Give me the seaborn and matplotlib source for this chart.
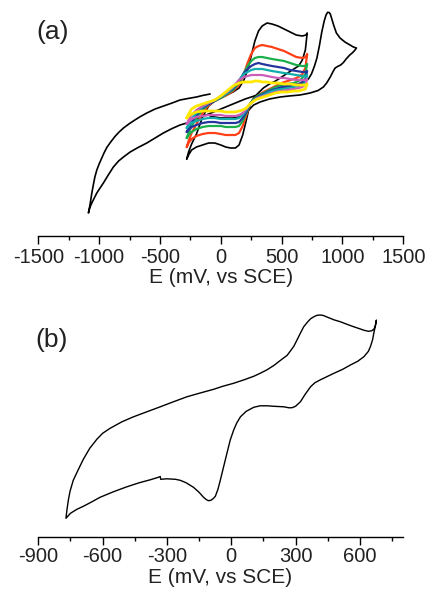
import matplotlib
matplotlib.use("Agg")
import matplotlib.pyplot as plt
import seaborn as sns
from matplotlib.ticker import MultipleLocator

# ---------------- data: panel (a) ----------------
# nested scans (-280 .. 710 mV), current in arbitrary units
E_up = [-280, -265, -240, -200, -150, -100, -50, 0, 50, 100, 150, 190, 220, 250,
        280, 310, 340, 380, 420, 470, 520, 570, 620, 670, 700, 710]
E_down = [710, 695, 670, 640, 600, 550, 500, 450, 400, 350, 300, 270, 240, 210,
          180, 150, 120, 80, 40, 0, -50, -100, -150, -200, -240, -265, -280]

black_up = [77, 84, 92, 102, 119, 130, 135, 138, 141, 144, 148, 156, 166, 180,
            195, 205, 210, 213, 212, 210, 207, 204, 201, 200, 201, 203]
black_dn = [203, 186, 176, 170, 167, 163, 159, 155, 152, 148, 142, 138, 132, 116,
            101, 91, 88, 88, 89, 91, 93, 93, 91, 89, 86, 81, 77]
red_up = [89, 95, 103, 112, 123, 131, 135, 138, 141, 145, 151, 162, 173, 182,
          188, 190, 191, 190, 189, 187, 185, 182, 179, 178, 179, 182]
red_dn = [182, 168, 162, 159, 157, 155, 153, 150, 147, 144, 140, 137, 132, 121,
          110, 103, 101, 101, 101, 102, 103, 103, 102, 100, 97, 93, 89]
green_up = [98, 103, 110, 118, 126, 132, 135, 138, 142, 146, 153, 163, 170, 175,
            178, 179, 179, 178, 177, 176, 175, 173, 171, 170, 170, 172]
green_dn = [172, 162, 158, 155, 153, 152, 151, 149, 146, 143, 140, 137, 132, 123,
            115, 110, 109, 109, 109, 110, 110, 110, 109, 107, 104, 101, 98]
blue_up = [104, 108, 114, 121, 128, 132, 135, 139, 143, 147, 155, 163, 167, 170,
           172, 173, 172, 171, 170, 169, 168, 166, 165, 164, 164, 165]
blue_dn = [165, 157, 154, 152, 151, 150, 149, 147, 145, 142, 139, 136, 132, 124,
           118, 114, 113, 113, 113, 113, 114, 114, 113, 111, 109, 106, 104]
teal_up = [108, 112, 117, 123, 129, 133, 136, 139, 143, 148, 156, 162, 164, 166,
           167, 167, 167, 166, 165, 164, 163, 162, 161, 160, 160, 161]
teal_dn = [161, 154, 151, 150, 149, 148, 147, 146, 144, 141, 138, 136, 132, 126,
           121, 118, 117, 117, 117, 117, 118, 118, 117, 115, 113, 110, 108]
magenta_up = [112, 116, 121, 126, 130, 133, 136, 140, 144, 149, 156, 159, 160, 161,
              161, 161, 161, 160, 159, 158, 158, 157, 156, 156, 156, 157]
magenta_dn = [157, 151, 149, 148, 147, 146, 145, 144, 142, 140, 138, 135, 132, 127,
              123, 121, 120, 120, 120, 121, 121, 121, 120, 119, 117, 114, 112]
yellow_up = [118, 122, 127, 130, 132, 134, 136, 140, 145, 150, 153, 154, 154, 154,
             155, 155, 154, 154, 153, 153, 152, 152, 151, 151, 151, 152]
yellow_dn = [152, 147, 146, 145, 145, 144, 144, 143, 141, 139, 137, 135, 132, 128,
             126, 125, 124, 124, 124, 125, 125, 125, 125, 124, 122, 120, 118]

# wide scan (-1088 .. 1115 mV)
wide_E = [-88, -150, -200, -270, -335, -400, -470, -540, -608, -660, -700, -750,
          -800, -840, -870, -905, -937, -960, -980, -1000, -1019, -1035, -1048,
          -1060, -1070, -1080, -1088,
          -1075, -1060, -1040, -1019, -995, -965, -930, -883, -840, -800, -745,
          -680, -608, -540, -472, -400, -335, -280,
          -200, -100, 0, 100, 200, 300, 400, 500, 600, 680, 720, 745, 770, 790,
          810, 830, 850, 865, 878, 890, 900, 915, 930, 950, 980, 1020, 1062,
          1090, 1115,
          1100, 1080, 1060, 1030, 1008, 985, 960, 940, 925, 900, 870, 843, 800,
          734, 650, 560, 488, 400, 323, 270, 230, 190, 150, 100, 50, 0, -50, -88]
wide_I = [142, 140.5, 139, 137.5, 136, 133, 130, 127, 123, 119.5, 116.5, 112.5,
          108, 103.5, 99.5, 94, 88.5, 83, 77.5, 72, 66, 59, 51,
          43, 35, 28, 23,
          29, 33, 38, 43, 47.5, 53, 60, 69, 75, 79, 84,
          88.5, 93, 98, 103, 107.5, 111, 113,
          117, 122, 127, 132, 137, 141, 145, 148, 150, 153, 157, 162, 170, 178,
          190, 204, 215, 221, 223.7, 223.5, 222, 216, 210, 203, 198, 194, 191,
          189, 188,
          185.5, 183, 181, 177, 173.5, 171, 169.5, 168, 165, 159, 153, 149, 145.5,
          143, 141, 140, 139, 137, 134, 131, 126, 121, 119, 118, 118, 118, 119, 120]

# ---------------- data: panel (b) ----------------
b_E = [677, 672, 665, 655, 640, 620, 600, 572, 540, 510, 479, 450, 430, 416, 400,
       385, 370, 355, 338, 320, 305, 292, 275, 261, 230, 200, 167, 135, 105, 60,
       11, -40, -82, -150, -207, -270, -331, -400, -456, -510, -565, -600, -627,
       -660, -690, -715, -737, -752, -760, -766, -771,
       -750, -720, -690, -650, -612, -550, -487, -430, -378, -340, -331, -329,
       -300, -260, -238, -210, -176, -150, -129, -115, -106, -95, -85, -74, -62,
       -51, -35, -20, -5, 11, 25, 43, 70, 105, 135, 167, 200, 245, 270, 284, 300,
       323, 345, 370, 390, 416, 450, 479, 520, 556, 590, 619, 640, 650, 660, 665,
       672, 677]
b_I = [217, 211, 208, 206.5, 206, 207, 208.5, 210.5, 213, 215.5, 217.5, 220,
       221.8, 222.3, 222, 220.5, 218.5, 215, 210.5, 203, 196.5, 191, 186, 182,
       177, 172, 167.5, 164, 161, 157.5, 154, 151, 148, 144, 140.5, 135.5, 130.5,
       125, 120.5, 115.5, 109, 104, 98, 89, 78, 67, 57, 46, 37, 28, 19,
       24, 28, 31, 35.5, 40, 45.5, 50.5, 54.5, 57.5, 60, 60.8, 58,
       58.5, 58, 57, 54.5, 50, 45, 40, 37.5, 36.6, 37, 38.5, 41, 48,
       57, 71, 84, 97, 107, 114, 120.5, 126, 130, 131.5, 131.5, 131, 130.5,
       129.5, 129.6, 131, 135.6, 143, 150.5, 154.5, 157.5, 161, 164, 168,
       172.3, 176, 180.6, 186, 191, 198, 204, 211, 217]

a_ticks = [-1500, -1000, -500, 0, 500, 1000, 1500]
b_ticks = [-900, -600, -300, 0, 300, 600]

loop_colors = ["black", "#FF4017", "#1AAF4B", "#24359E", "#13ACAC", "#CC5CB8", "#FFE800"]
loops_up = [black_up, red_up, green_up, blue_up, teal_up, magenta_up, yellow_up]
loops_dn = [black_dn, red_dn, green_dn, blue_dn, teal_dn, magenta_dn, yellow_dn]
loop_lw = [1.2, 1.6, 1.6, 1.6, 1.6, 1.6, 2.0]

# ---------------- style ----------------
sns.set_style("white")
plt.rcParams["font.family"] = ["Liberation Sans", "DejaVu Sans"]
plt.rcParams["axes.unicode_minus"] = False

W, H = 428, 596
fig = plt.figure(figsize=(W / 100, H / 100), dpi=100)
ax1 = fig.add_axes([38.3 / W, 1 - 236 / H, (403.3 - 38.3) / W, 231 / H])
ax2 = fig.add_axes([38.3 / W, 1 - 537.3 / H, (402.7 - 38.3) / W, 247 / H])

# panel (a)
sns.lineplot(x=wide_E, y=wide_I, sort=False, estimator=None, color="black",
             lw=1.2, ax=ax1)
for up, dn, c, lw in zip(loops_up, loops_dn, loop_colors, loop_lw):
    sns.lineplot(x=E_up + E_down, y=up + dn, sort=False, estimator=None,
                 color=c, lw=lw, ax=ax1)
ax1.set_xlim(-1500, 1500)
ax1.set_ylim(0, 231)
ax1.set_xticks(a_ticks)
ax1.set_xticklabels([str(t) for t in a_ticks])
ax1.xaxis.set_minor_locator(MultipleLocator(250))

# panel (b)
sns.lineplot(x=b_E, y=b_I, sort=False, estimator=None, color="black", lw=1.0, ax=ax2)
ax2.set_xlim(-900, 800)
ax2.set_ylim(0, 247)
ax2.set_xticks(b_ticks)
ax2.set_xticklabels([str(t) for t in b_ticks])
ax2.xaxis.set_minor_locator(MultipleLocator(150))

for ax, pad in ((ax1, 3.2), (ax2, 1.8)):
    for s in ("top", "left", "right"):
        ax.spines[s].set_visible(False)
    ax.spines["bottom"].set_color("black")
    ax.spines["bottom"].set_linewidth(1.0)
    ax.set_yticks([])
    ax.set_ylabel("")
    ax.set_facecolor("none")
    ax.tick_params(axis="x", which="major", direction="out", length=5.5,
                   width=1.0, color="black", labelsize=14.5, pad=pad,
                   bottom=True, labelcolor="#222222")
    ax.tick_params(axis="x", which="minor", direction="out", length=3,
                   width=1.0, color="black", bottom=True)
    ax.set_xlabel("E (mV, vs SCE)", fontsize=15, labelpad=1, color="#222222")

fig.text(36.5 / W, 1 - 32 / H, "(a)", fontsize=19, ha="left", va="center", color="#222222")
fig.text(35 / W, 1 - 340 / H, "(b)", fontsize=19, ha="left", va="center", color="#222222")

fig.savefig("out.png", dpi=100)
